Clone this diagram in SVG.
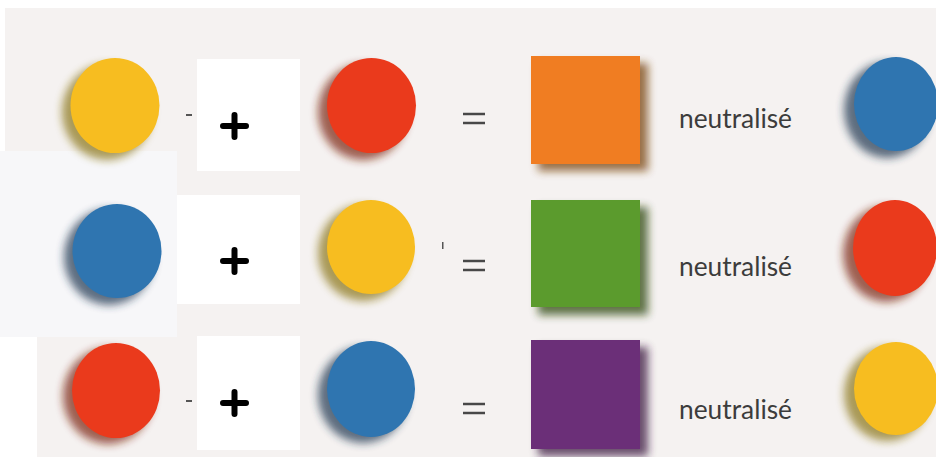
<svg xmlns="http://www.w3.org/2000/svg" width="936" height="457" viewBox="0 0 936 457">
<defs>
<filter id="blur" x="-30%" y="-30%" width="160%" height="160%"><feGaussianBlur stdDeviation="4.5"/></filter>
<style>
.bg{fill:#f5f2f1}
.white{fill:#ffffff}
.plus{stroke:#000;stroke-width:6;stroke-linecap:round;fill:none}
.eq{stroke:#484848;stroke-width:2.5}
.lbl{font-family:"Lato","Open Sans",sans-serif;font-size:26px;fill:#3c3c3c}
.yellow{fill:#f7bd20}
.red{fill:#ea3a1c}
.blue{fill:#2f75b0}
.sh-yellow{fill:#8a7418;opacity:.7}
.sh-red{fill:#7a2410;opacity:.7}
.sh-blue{fill:#1c3550;opacity:.7}
.mark{fill:#555}
</style>
</defs>
<g id="background">
<rect class="bg" x="0" y="0" width="936" height="457"/>
<rect class="white" x="0" y="0" width="936" height="8"/>
<rect class="white" x="0" y="0" width="5" height="151"/>
<rect x="0" y="151" width="177" height="186" fill="#f7f7f9"/>
<rect class="white" x="0" y="337" width="37" height="120"/>
<rect class="mark" x="186" y="114" width="6" height="2"/>
<rect class="mark" x="186" y="400" width="6" height="2"/>
<rect class="mark" x="442" y="242" width="1.5" height="7"/>
</g>
<g id="row1">
<g id="r1-yellow"><ellipse class="sh-yellow" cx="107" cy="112" rx="45" ry="48" filter="url(#blur)"/><ellipse class="yellow" cx="115" cy="105.5" rx="44.5" ry="47.5"/></g>
<g id="r1-plus"><rect class="white" x="197" y="59" width="103" height="112"/><path class="plus" d="M223 126H246M234.5 115V137"/></g>
<g id="r1-red"><ellipse class="sh-red" cx="363" cy="112" rx="45" ry="48" filter="url(#blur)"/><ellipse class="red" cx="371.5" cy="105.5" rx="44.5" ry="47.5"/></g>
<g id="r1-eq"><line class="eq" x1="463" y1="114" x2="485" y2="114"/><line class="eq" x1="463" y1="123" x2="485" y2="123"/></g>
<g id="r1-orange"><rect x="538" y="63" width="110" height="108" fill="#7a4410" opacity=".75" filter="url(#blur)"/><rect x="531" y="56" width="109" height="108" fill="#f07d22"/></g>
<text class="lbl" x="679" y="128" textLength="113" lengthAdjust="spacingAndGlyphs">neutralisé</text>
<g id="r1-blue"><ellipse class="sh-blue" cx="887" cy="110" rx="43" ry="48" filter="url(#blur)"/><ellipse class="blue" cx="896" cy="104" rx="42" ry="47"/></g>
</g>
<g id="row2">
<g id="r2-blue"><ellipse class="sh-blue" cx="109" cy="257" rx="45" ry="48" filter="url(#blur)"/><ellipse class="blue" cx="117" cy="251" rx="44.5" ry="47"/></g>
<g id="r2-plus"><rect class="white" x="177" y="195" width="123" height="109"/><path class="plus" d="M223 261H246M234.5 250V272"/></g>
<g id="r2-yellow"><ellipse class="sh-yellow" cx="363" cy="253" rx="45" ry="48" filter="url(#blur)"/><ellipse class="yellow" cx="371" cy="247" rx="44" ry="47"/></g>
<g id="r2-eq"><line class="eq" x1="463" y1="261" x2="485" y2="261"/><line class="eq" x1="463" y1="270" x2="485" y2="270"/></g>
<g id="r2-green"><rect x="538" y="207" width="110" height="108" fill="#2d4810" opacity=".75" filter="url(#blur)"/><rect x="531" y="200" width="109" height="107" fill="#5b9b2d"/></g>
<text class="lbl" x="679" y="276" textLength="113" lengthAdjust="spacingAndGlyphs">neutralisé</text>
<g id="r2-red"><ellipse class="sh-red" cx="886" cy="254" rx="43" ry="48" filter="url(#blur)"/><ellipse class="red" cx="895" cy="248" rx="42" ry="48"/></g>
</g>
<g id="row3">
<g id="r3-red"><ellipse class="sh-red" cx="108" cy="396" rx="45" ry="48" filter="url(#blur)"/><ellipse class="red" cx="116" cy="390.5" rx="44" ry="47.5"/></g>
<g id="r3-plus"><rect class="white" x="197" y="336" width="103" height="114"/><path class="plus" d="M223 403H246M234.5 392V414"/></g>
<g id="r3-blue"><ellipse class="sh-blue" cx="363" cy="395" rx="45" ry="48" filter="url(#blur)"/><ellipse class="blue" cx="371" cy="389" rx="44" ry="48"/></g>
<g id="r3-eq"><line class="eq" x1="463" y1="404" x2="485" y2="404"/><line class="eq" x1="463" y1="413" x2="485" y2="413"/></g>
<g id="r3-purple"><rect x="538" y="347" width="110" height="109" fill="#3a1840" opacity=".75" filter="url(#blur)"/><rect x="531" y="340" width="109" height="109" fill="#6b2f78"/></g>
<text class="lbl" x="679" y="419" textLength="113" lengthAdjust="spacingAndGlyphs">neutralisé</text>
<g id="r3-yellow"><ellipse class="sh-yellow" cx="887" cy="394" rx="43" ry="47" filter="url(#blur)"/><ellipse class="yellow" cx="896" cy="388.5" rx="42" ry="46.5"/></g>
</g>
</svg>
